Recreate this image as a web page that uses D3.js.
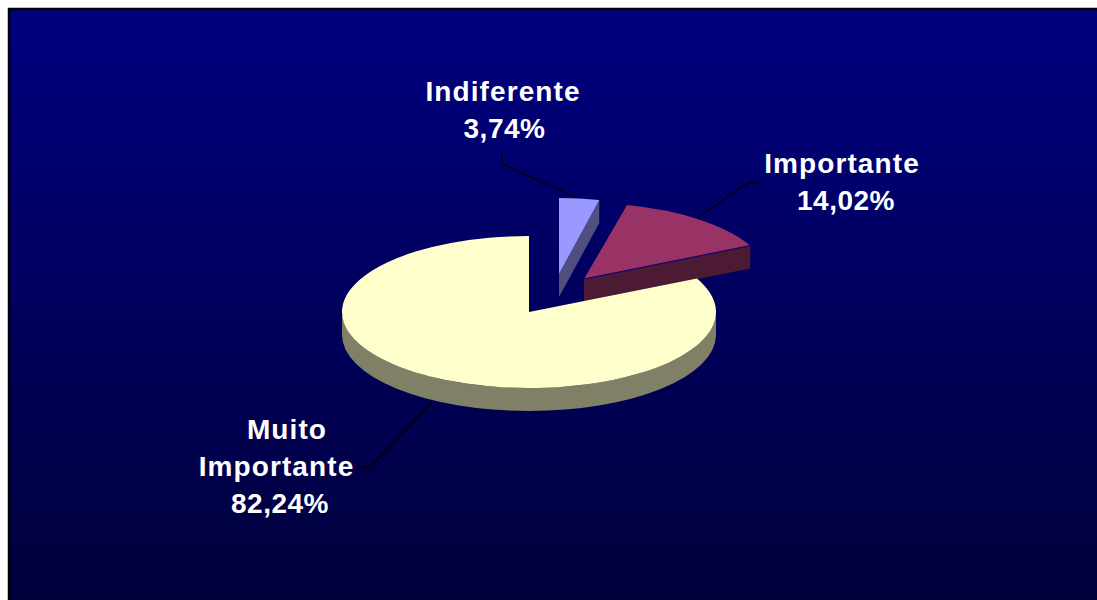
<!DOCTYPE html>
<html>
<head>
<meta charset="utf-8">
<script src="https://cdn.jsdelivr.net/npm/d3@7"></script>
<style>
  html, body { margin: 0; padding: 0; background: #fff; overflow: hidden; }
  text { font-family: "Liberation Sans", Arial, sans-serif; font-weight: bold; font-size: 28px; fill: #fff; text-anchor: middle; }
</style>
</head>
<body>
<svg id="chart" width="1097" height="600"></svg>
<script>
// values
const categories = ['Indiferente', 'Importante', 'Muito Importante'];
const shares = [3.74, 14.02, 82.24];
const topColors = ['#9999ff', '#993366', '#ffffcc'];
const wallColors = ['#4f4f80', '#4c1a33', '#808066'];

// layout
const cx = 529, cy = 312, ry = 76, depth = 23;
const radii = [173, 185, 187];
const offsets = [[30, -38], [55, -33], [0, 0]]; // exploded slices
const labelLines = [
  [['Indiferente', 503, 101, 1.1], ['3,74%', 504.5, 138, 0.5]],
  [['Importante', 842, 173, 1.1], ['14,02%', 846, 210, 0.5]],
  [['Muito', 287, 439, 1.1], ['Importante', 276.5, 476, 1.1], ['82,24%', 280, 513, 0.5]]
];
const leaders = [
  [[502, 153], [502, 164], [580, 199]],
  [[759, 183], [748, 183], [697, 218]],
  [[432, 402], [370, 467], [358, 467]]
];

const svg = d3.select('#chart');

const grad = svg.append('defs').append('linearGradient')
  .attr('id', 'bg').attr('x1', 0).attr('y1', 0).attr('x2', 0).attr('y2', 1);
grad.append('stop').attr('offset', 0).attr('stop-color', '#000080');
grad.append('stop').attr('offset', 1).attr('stop-color', '#00003a');

svg.append('rect')
  .attr('x', 9).attr('y', 9).attr('width', 1097).attr('height', 600)
  .attr('fill', 'url(#bg)')
  .attr('stroke', '#000')
  .attr('stroke-width', 2.5);

// leader lines go under the pie
svg.append('g').selectAll('path')
  .data(leaders)
  .enter()
  .append('path')
  .attr('d', d3.line())
  .attr('fill', 'none')
  .attr('stroke', '#000')
  .attr('stroke-width', 1.3);

const pie = d3.pie().sort(null)(shares);
const arc = d3.arc().innerRadius(0);

// point on the rim of the ellipse, clockwise from the top
function rim(a, i, dy) {
  return [cx + offsets[i][0] + radii[i] * Math.sin(a), cy + offsets[i][1] - ry * Math.cos(a) + (dy || 0)];
}

// visible curved wall, only the front half of the ellipse shows
function outerWall(d, i) {
  let a0 = Math.max(d.startAngle, Math.PI / 2);
  let a1 = Math.min(d.endAngle, Math.PI * 1.5);
  if (a0 >= a1) return null;
  let p0 = rim(a0, i), p1 = rim(a1, i), q1 = rim(a1, i, depth), q0 = rim(a0, i, depth);
  let r = radii[i];
  return `M${p0} A${r},${ry} 0 0 1 ${p1} L${q1} A${r},${ry} 0 0 0 ${q0} Z`;
}

// cut face that looks to the viewer, from the end of the slice to the apex
function cutWall(d, i) {
  if (d.endAngle > Math.PI) return null;
  let p = rim(d.endAngle, i);
  let apex = [cx + offsets[i][0], cy + offsets[i][1]];
  return `M${p} L${apex} L${[apex[0], apex[1] + depth]} L${[p[0], p[1] + depth]} Z`;
}

const slices = svg.append('g').selectAll('g')
  .data(pie)
  .enter()
  .append('g')
  .attr('class', (d, i) => 'slice s' + i);

slices.append('path')
  .attr('d', cutWall)
  .attr('fill', (d, i) => wallColors[i]);

slices.append('path')
  .attr('d', outerWall)
  .attr('fill', (d, i) => wallColors[i]);

slices.append('path')
  .attr('d', (d, i) => arc.outerRadius(radii[i])(d))
  .attr('transform', (d, i) => `translate(${cx + offsets[i][0]},${cy + offsets[i][1]}) scale(1,${ry / radii[i]})`)
  .attr('fill', (d, i) => topColors[i]);

// thin dark seam along the front edge of the Importante slice
svg.append('path')
  .attr('d', d3.line()([[cx + offsets[1][0], cy + offsets[1][1]], rim(pie[1].endAngle, 1)]))
  .attr('stroke', '#000080')
  .attr('stroke-width', 1);

// labels
svg.append('g').selectAll('g')
  .data(labelLines)
  .enter()
  .append('g')
  .selectAll('text')
  .data(d => d)
  .enter()
  .append('text')
  .attr('x', d => d[1])
  .attr('y', d => d[2])
  .attr('letter-spacing', d => d[3])
  .text(d => d[0]);
</script>
</body>
</html>
